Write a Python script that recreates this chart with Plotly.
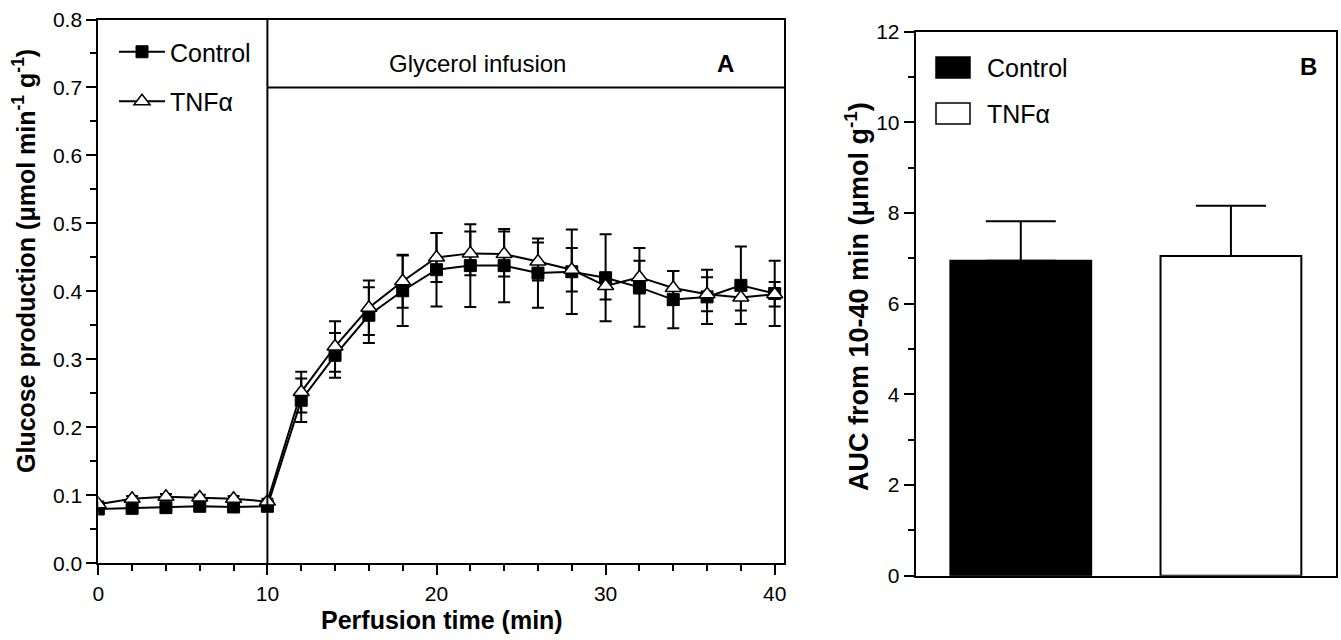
import plotly.graph_objects as go

# ---------------- data ----------------
time_min = [0, 2, 4, 6, 8, 10, 12, 14, 16, 18, 20, 22, 24, 26, 28, 30, 32, 34, 36, 38, 40]
control_mean = [0.080, 0.081, 0.082, 0.084, 0.083, 0.084, 0.240, 0.306, 0.365, 0.401, 0.432,
                0.438, 0.438, 0.427, 0.429, 0.420, 0.406, 0.388, 0.392, 0.409, 0.397]
control_se = [0.004, 0.004, 0.004, 0.004, 0.004, 0.004, 0.032, 0.033, 0.041, 0.052, 0.054,
              0.061, 0.054, 0.051, 0.062, 0.064, 0.058, 0.042, 0.040, 0.057, 0.048]
tnf_mean = [0.087, 0.095, 0.098, 0.097, 0.095, 0.091, 0.252, 0.319, 0.376, 0.415, 0.450,
            0.456, 0.455, 0.444, 0.432, 0.408, 0.421, 0.405, 0.396, 0.391, 0.396]
tnf_se = [0.004, 0.004, 0.004, 0.004, 0.004, 0.004, 0.030, 0.037, 0.040, 0.039, 0.036,
          0.032, 0.033, 0.028, 0.032, 0.020, 0.024, 0.025, 0.025, 0.019, 0.018]

auc_groups = ["Control", "TNFα"]
auc_mean = [6.95, 7.05]
auc_se = [0.87, 1.11]
auc_colors = ["black", "white"]

series_names = ["Control", "TNFα"]

# ---------------- layout helpers ----------------
W, H = 1341, 640
def px(x):
    return x / W
def py(y):
    return 1 - y / H

FONT = "Liberation Sans, Arial, sans-serif"
TICKFONT = dict(family=FONT, size=21, color="black")

fig = go.Figure()

fig.add_trace(go.Scatter(
    x=time_min, y=control_mean, mode="lines+markers", name=series_names[0],
    line=dict(color="black", width=2),
    marker=dict(symbol="square", size=12, color="black", line=dict(color="black", width=1)),
    error_y=dict(type="data", array=control_se, visible=True, color="black", thickness=2, width=6),
    xaxis="x", yaxis="y", legendgroup="g1",
))
fig.add_trace(go.Scatter(
    x=time_min, y=tnf_mean, mode="lines+markers", name=series_names[1],
    line=dict(color="black", width=2),
    marker=dict(symbol="triangle-up", size=14, color="white", line=dict(color="black", width=1.5)),
    error_y=dict(type="data", array=tnf_se, visible=True, color="black", thickness=2, width=6),
    xaxis="x", yaxis="y", legendgroup="g2",
))

fig.add_trace(go.Bar(
    x=auc_groups, y=auc_mean, width=0.67,
    marker=dict(color=auc_colors, line=dict(color="black", width=2)),
    error_y=dict(type="data", array=auc_se, arrayminus=[0, 0], symmetric=False,
                 visible=True, color="black", thickness=2, width=35),
    xaxis="x2", yaxis="y2", showlegend=False,
))

axis_common = dict(showline=True, linewidth=2, linecolor="black", mirror=True,
                   showgrid=False, zeroline=False, tickfont=TICKFONT, automargin=False,
                   ticks="outside", tickwidth=2, tickcolor="black")

fig.update_layout(
    template="none",
    width=W, height=H,
    margin=dict(l=0, r=0, t=0, b=0, autoexpand=False),
    paper_bgcolor="white", plot_bgcolor="white",
    font=dict(family=FONT, color="black"),
    xaxis=dict(domain=[px(98.3), px(784)], anchor="y", range=[0, 40.55],
               tick0=0, dtick=10, ticklen=10,
               minor=dict(dtick=2, ticks="outside", ticklen=6, tickwidth=2, tickcolor="black"),
               **axis_common),
    yaxis=dict(domain=[py(563.4), py(19.5)], anchor="x", range=[0, 0.8],
               tick0=0, dtick=0.1, tickformat=".1f", ticklen=10,
               minor=dict(dtick=0.05, ticks="outside", ticklen=6, tickwidth=2, tickcolor="black"),
               **axis_common),
    xaxis2=dict(domain=[px(915.7), px(1336)], anchor="y2", range=[-0.5, 1.5],
                showticklabels=False, **{**axis_common, "ticks": ""}),
    yaxis2=dict(domain=[py(575.7), py(31.7)], anchor="x2", range=[0, 12],
                tick0=0, dtick=2, ticklen=10,
                minor=dict(dtick=1, ticks="outside", ticklen=6, tickwidth=2, tickcolor="black"),
                **axis_common),
    legend=dict(x=px(114), y=py(29), xanchor="left", yanchor="top",
                font=dict(family=FONT, size=25, color="black"), itemwidth=46,
                bgcolor="rgba(0,0,0,0)", borderwidth=0, tracegroupgap=14, traceorder="grouped"),
    showlegend=True,
)

# Glycerol infusion bracket
fig.add_shape(type="line", xref="x", yref="y", x0=10, x1=10, y0=0, y1=0.8,
              line=dict(color="black", width=2))
fig.add_shape(type="line", xref="x", yref="y", x0=10, x1=40.55, y0=0.7, y1=0.7,
              line=dict(color="black", width=2))

# Panel B legend (rectangles)
for i, (nm, col) in enumerate(zip(auc_groups, auc_colors)):
    ytop = 57 + i * 46
    fig.add_shape(type="rect", xref="paper", yref="paper",
                  x0=px(936), x1=px(970), y0=py(ytop + 21), y1=py(ytop),
                  fillcolor=col, line=dict(color="black", width=1.5))
    fig.add_annotation(xref="paper", yref="paper", x=px(985), y=py(ytop + 10.5),
                       text=nm, showarrow=False, xanchor="left", yanchor="middle",
                       font=dict(family=FONT, size=25, color="black"))

annots = [
    dict(xref="x", yref="y", x=22.4, y=0.736, text="Glycerol infusion",
         font=dict(family=FONT, size=24, color="black")),
    dict(xref="x", yref="y", x=37.1, y=0.736, text="A",
         font=dict(family=FONT, size=24, color="black", weight="bold")),
    dict(xref="paper", yref="paper", x=px(1308), y=py(66), text="B",
         font=dict(family=FONT, size=24, color="black", weight="bold")),
    dict(xref="paper", yref="paper", x=px(441.5), y=py(620), text="Perfusion time (min)",
         font=dict(family=FONT, size=25, color="black", weight="bold")),
    dict(xref="paper", yref="paper", x=px(24), y=py(261), textangle=-90,
         text="Glucose production (μmol min<sup>-1</sup> g<sup>-1</sup>)",
         font=dict(family=FONT, size=25, color="black", weight="bold")),
    dict(xref="paper", yref="paper", x=px(857), y=py(297), textangle=-90,
         text="AUC from 10-40 min (μmol g<sup>-1</sup>)",
         font=dict(family=FONT, size=27, color="black", weight="bold")),
]
for a in annots:
    fig.add_annotation(showarrow=False, xanchor="center", yanchor="middle", **a)

fig.write_html("out.html")
